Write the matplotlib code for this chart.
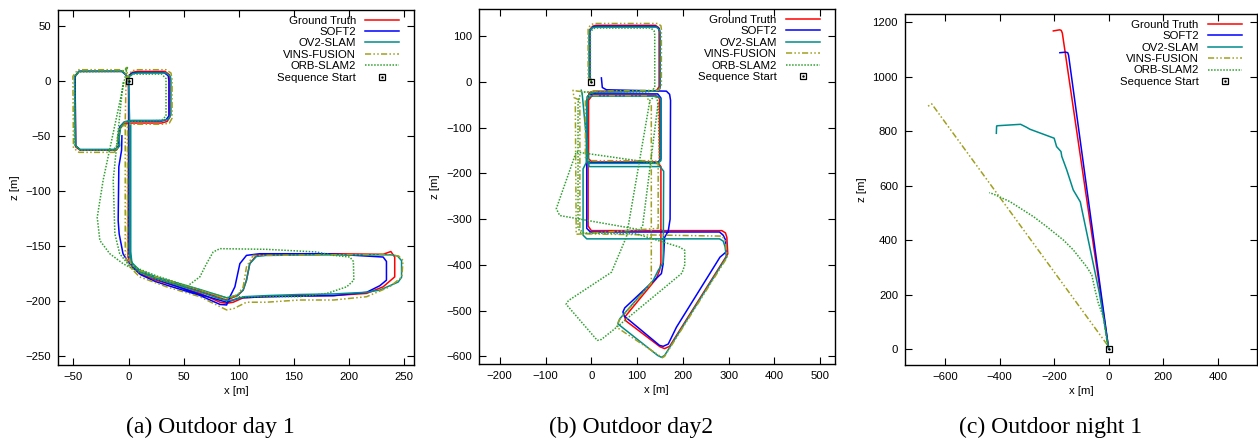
import matplotlib
matplotlib.use("Agg")
import matplotlib.pyplot as plt
import numpy as np
from matplotlib.legend_handler import HandlerTuple

plt.rcParams["font.family"] = ["Liberation Sans", "DejaVu Sans"]

METHODS = ["Ground Truth", "SOFT2", "OV2-SLAM", "VINS-FUSION", "ORB-SLAM2"]
COL = {"Ground Truth": "#ff0000", "SOFT2": "#0000ff", "OV2-SLAM": "#008b8b",
       "VINS-FUSION": "#a0a020", "ORB-SLAM2": "#2fa02f"}
LS = {"Ground Truth": "-", "SOFT2": "-", "OV2-SLAM": "-",
      "VINS-FUSION": (0, (4, 1.5, 1, 1.5, 1, 1.5)), "ORB-SLAM2": (0, (1, 1))}

# ---- (a) Outdoor day 1: (x, z) waypoints in metres ----
A_GT = [(0, 0), (0, 4), (3, 7.5), (8, 8.5), (33, 8.5), (37, 5.5), (37.5, 1), (37.5, -33), (35, -37),
        (30, -38.4), (3, -38.4), (-4, -39), (-7.5, -43), (-9, -52), (-8.5, -59), (-11, -63), (-44, -63),
        (-48, -60), (-48.5, 4), (-45, 8.5), (-6, 8.5), (-2, 5), (0, 0), (0, -37), (-0.5, -160), (3, -169),
        (10, -175), (25, -181), (65, -193), (83, -201), (89, -202), (95, -201), (104, -197), (125, -196),
        (155, -195), (186, -195), (216, -193), (231, -187), (241.5, -178), (241.5, -160), (238, -155),
        (231, -157.5), (186, -157), (125, -157.5), (116, -158.5), (110, -166), (107, -181), (104, -190),
        (99, -195), (89, -199), (65, -191), (25, -179), (10, -173), (3, -166), (1, -155), (1, -40)]
A_SOFT2 = [(0, 0), (0, 4), (3, 7), (8, 7.5), (32, 7.5), (36, 4.5), (36.6, 0), (36.6, -32), (34, -35.5),
           (30, -36.6), (3, -36.6), (-4, -37.5), (-8, -42), (-9.5, -52), (-9, -59), (-12, -62.5),
           (-44, -62.5), (-48, -59), (-48.5, 4), (-45, 8.5), (-6, 8.5), (-2, 5), (0, 0), (0.5, -37),
           (0.5, -160), (4, -169), (11, -176), (25, -182.5), (65, -195), (83, -203), (89, -203.5),
           (92, -196), (96.5, -187), (101, -166), (107, -158.5), (119, -157), (180, -157), (231, -160),
           (234, -164), (234, -181), (228, -186), (216, -192), (186, -195), (125, -196), (101, -197),
           (89, -201), (65, -194), (25, -180), (10, -172), (0, -165), (-5, -157), (-8.5, -139),
           (-9.4, -127), (-8.8, -78), (-6.3, -63), (-6, -50)]
A_OV2 = [(0, 0), (1, 4), (4, 6.5), (9, 7), (34, 7), (38, 4), (38.5, 0), (38.5, -31), (36, -35), (31, -36),
         (3, -36), (-3, -37), (-7, -41), (-8.5, -52), (-8, -59), (-11, -62.5), (-44, -62.5), (-48, -59),
         (-49, 4), (-45, 8.5), (-6, 8.5), (-2, 5), (0, 0), (1, -37), (1, -160), (4, -168), (11, -174),
         (25.4, -179.6), (64.7, -191.7), (83, -198), (89, -199.5), (95, -199), (105, -196), (125, -195),
         (155, -194), (186, -193.5), (216, -192), (228, -190), (244.6, -182.7), (247.7, -178.4),
         (247.7, -163.3), (244, -159), (238, -158), (186, -158), (125, -158.5), (116, -159.5), (110, -166),
         (107, -181), (104, -190), (99, -194.5), (89, -197), (65, -189.5), (25, -178), (10, -172),
         (3, -165), (2, -155), (2, -40)]
A_VINS = [(0, 0), (0, 5), (3, 9), (8, 10), (34, 10), (38.5, 7), (39.5, 1), (39.5, -34), (37, -38.5),
          (31, -39.5), (3, -39.5), (-4, -40), (-8, -44), (-10, -52), (-9.5, -60), (-13, -65), (-45, -65),
          (-50, -61), (-50.5, 4), (-46, 10), (-6, 10), (-2, 6), (0, 0), (-2, 12), (-3, -37), (-3, -160),
          (1.2, -169), (10, -178), (34.5, -187), (64.7, -196), (89, -208), (95, -207), (107, -201),
          (125, -201), (155, -199), (186, -199), (216, -196), (237, -187), (248, -178), (249, -163),
          (245, -159), (230, -157.5), (186, -158), (125, -158.5), (113, -158.5), (107, -169), (104, -187),
          (99, -194), (89, -198), (65, -190), (25, -178), (10, -172), (2, -166), (-1, -155), (-1, -40)]
A_ORB = [(0, 0), (0, 3), (4, 6), (30, 6), (34, 2), (34, -32), (30, -36), (3, -37), (-4, -38), (-9, -45),
         (-10, -58), (-14, -63), (-44, -63), (-49, -58), (-49, 3), (-45, 8), (-5, 8.5), (-1, 12),
         (-1.8, 9.4), (-23, -90), (-28.4, -124), (-26, -145), (-17, -157), (-5, -166), (10, -174),
         (25, -180), (52.6, -187), (64.7, -178), (70.8, -166), (76.8, -155.4), (82.9, -152.4),
         (125, -153), (170.5, -155.4), (186, -158.5), (200.8, -160), (204, -164), (204.4, -181),
         (198, -187), (180, -193), (155, -196), (125, -196), (95, -196), (89, -197), (65, -190),
         (25, -177), (10, -171), (0, -167), (-8, -157), (-12.4, -139), (-13.9, -90), (-4.8, 0)]

# ---- (b) Outdoor day2 ----
B_GT = [(0, 0), (-4, 10), (-4, 114), (3, 122), (10, 124), (140, 124), (147, 119), (148, 110), (148, -10),
        (143, -18), (135, -20), (5, -20), (-5, -24), (-7, -35), (-7, -315), (0, -325), (285, -325),
        (293, -330), (296, -340), (298, -376), (171, -578), (160, -583), (150, -579), (75, -522),
        (73, -514), (142, -430), (149, -412), (152, -395), (152, -185), (144, -175), (2, -175), (-6, -168),
        (-6, -40), (2, -29), (140, -29), (149, -36), (149, -168)]
B_SOFT2 = [(0, 0), (-3, 10), (-3, 113), (4, 121), (12, 122), (140, 122), (148, 117), (150, 108),
           (150, -14), (144, -20), (10, -22), (-2, -26), (-9, -33), (-10, -170), (-3, -176), (145, -176),
           (152, -168), (152, -35), (145, -26), (0, -26), (-8, -32), (-10, -45), (-10, -320), (-2, -328),
           (280, -328), (288, -335), (293, -345), (294, -372), (281, -383), (186, -536), (168, -573),
           (157, -578), (149, -576), (72, -512), (69, -503), (73, -494), (153, -419), (157, -397),
           (160, -340), (168, -326), (172, -300), (173, -40), (171, -27), (164, -20), (33, -17),
           (24, -12), (22, 9)]
B_OV2 = [(0, 0), (-5, 10), (-5, 112), (2, 119), (10, 120), (142, 120), (149, 114), (150, 105), (150, -12),
         (144, -20), (10, -22), (-4, -26), (-10, -35), (-10, -170), (-3, -178), (145, -178), (152, -172),
         (152, -38), (146, -31), (-2, -31), (-10, -40), (-11, -176), (-18, -190), (-18, -335), (-10, -343),
         (280, -343), (288, -348), (292, -360), (295, -383), (160, -598), (153, -602), (145, -598),
         (58, -529), (62, -518), (135, -434), (146, -412), (157, -395), (158, -195), (150, -185),
         (-5, -185), (-20, -25), (-22, -18)]
B_VINS = [(0, 0), (-7, 10), (-7, 118), (0, 126), (8, 128), (145, 128), (152, 123), (153, 115), (153, -10),
          (147, -18), (10, -20), (-10, -22), (-30, -20), (-40, -18), (-38, -34), (-25, -40), (-25, -320),
          (-18, -332), (285, -337), (292, -345), (297, -383), (160, -600), (155, -603), (148, -598),
          (55, -536), (60, -522), (131, -440), (131, -50), (125, -40), (120, -30), (-5, -30), (-13, -38),
          (-13, -165), (-5, -172), (140, -172), (146, -180), (146, -320), (-33, -333), (-35, -40)]
B_ORB = [(0, 0), (-2, 10), (-2, 110), (5, 117), (12, 118), (130, 118), (137, 112), (138.5, 104),
         (138.5, -12), (132, -20), (120, -22), (-15, -22), (-25, -30), (-29, -45), (-29, -320),
         (-22, -330), (98, -332), (193, -361), (204, -368), (204, -400), (198, -418), (47, -543),
         (22, -563), (13, -565), (-55, -486), (-50, -478), (44, -416), (76.5, -339), (128, -40),
         (140, -30), (146, -45), (149, -179), (-33, -153), (-76.5, -277), (-69, -292), (106, -323),
         (112, -315), (146, -45)]

# ---- (c) Outdoor night 1 ----
C_GT = [(0, 0), (-170, 1160), (-174, 1170), (-180, 1172), (-203, 1168)]
C_SOFT2 = [(0, 0), (-147, 1078), (-150, 1088), (-158, 1090), (-179, 1088)]
C_OV2 = [(0, 0), (-34, 205), (-100, 520), (-104, 540), (-130, 584), (-154, 658), (-172, 707), (-175, 725),
         (-191, 743), (-200, 774), (-289, 807), (-301, 814), (-323, 825), (-405, 820), (-411, 819),
         (-412, 792)]
C_VINS = [(-5, 15), (-649, 900), (-668, 888)]
C_ORB = [(0, 5), (-5, 20), (-20, 119), (-38, 168), (-50, 217), (-62, 272), (-81, 302), (-130, 364),
         (-166, 400), (-227, 449), (-276, 486), (-362, 541), (-423, 569), (-438, 574)]

PANELS = [
    dict(tracks=[A_GT, A_SOFT2, A_OV2, A_VINS, A_ORB], xlim=(-64, 259), ylim=(-258, 64),
         xticks=np.arange(-50, 251, 50), yticks=np.arange(-250, 51, 50),
         pos=[0.0461, 0.176, 0.283, 0.801], caption="(a) Outdoor day 1", cx=0.167),
    dict(tracks=[B_GT, B_SOFT2, B_OV2, B_VINS, B_ORB], xlim=(-246, 532), ylim=(-617, 159),
         xticks=np.arange(-200, 501, 100), yticks=np.arange(-600, 101, 100),
         pos=[0.3805, 0.178, 0.2832, 0.801], caption="(b) Outdoor day2", cx=0.5016),
    dict(tracks=[C_GT, C_SOFT2, C_OV2, C_VINS, C_ORB], xlim=(-747, 543), ylim=(-59, 1229),
         xticks=np.arange(-600, 401, 200), yticks=np.arange(0, 1201, 200),
         pos=[0.7194, 0.176, 0.2796, 0.7917], caption="(c) Outdoor night 1", cx=0.835),
]

fig = plt.figure(figsize=(12.58, 4.43), dpi=100)
FS = 8.2

for p in PANELS:
    ax = fig.add_axes(p["pos"])
    handles = []
    for name, tr in zip(METHODS, p["tracks"]):
        tr = np.array(tr, dtype=float)
        h, = ax.plot(tr[:, 0], tr[:, 1], color=COL[name], ls=LS[name], lw=1.1, label=name)
        handles.append(h)
    sq, = ax.plot([0], [0], ls="none", marker="s", ms=4.5, mfc="none", mec="black", mew=0.9)
    dot, = ax.plot([0], [0], ls="none", marker=".", ms=1.5, color="black")
    ax.set_xlim(*p["xlim"])
    ax.set_ylim(*p["ylim"])
    ax.set_xticks(p["xticks"])
    ax.set_yticks(p["yticks"])
    ax.tick_params(direction="in", top=True, right=True, length=5, width=0.8,
                   labelsize=FS, pad=5)
    for s in ax.spines.values():
        s.set_linewidth(1.0)
    ax.set_xlabel("x [m]", fontsize=FS, labelpad=3)
    ax.set_ylabel("z [m]", fontsize=FS, labelpad=4)
    ax.legend(handles + [(sq, dot)], METHODS + ["Sequence Start"],
              handler_map={tuple: HandlerTuple(ndivide=1)},
              loc="upper right", bbox_to_anchor=(0.958, 0.985), frameon=False,
              markerfirst=False, fontsize=FS, handlelength=3.0, handletextpad=0.8,
              labelspacing=0.13, borderaxespad=0.0, borderpad=0.0)
    fig.text(p["cx"], 0.036, p["caption"], ha="center", va="center", fontsize=17,
             family=["Liberation Serif", "DejaVu Serif"])

fig.savefig("out.png", dpi=100)
